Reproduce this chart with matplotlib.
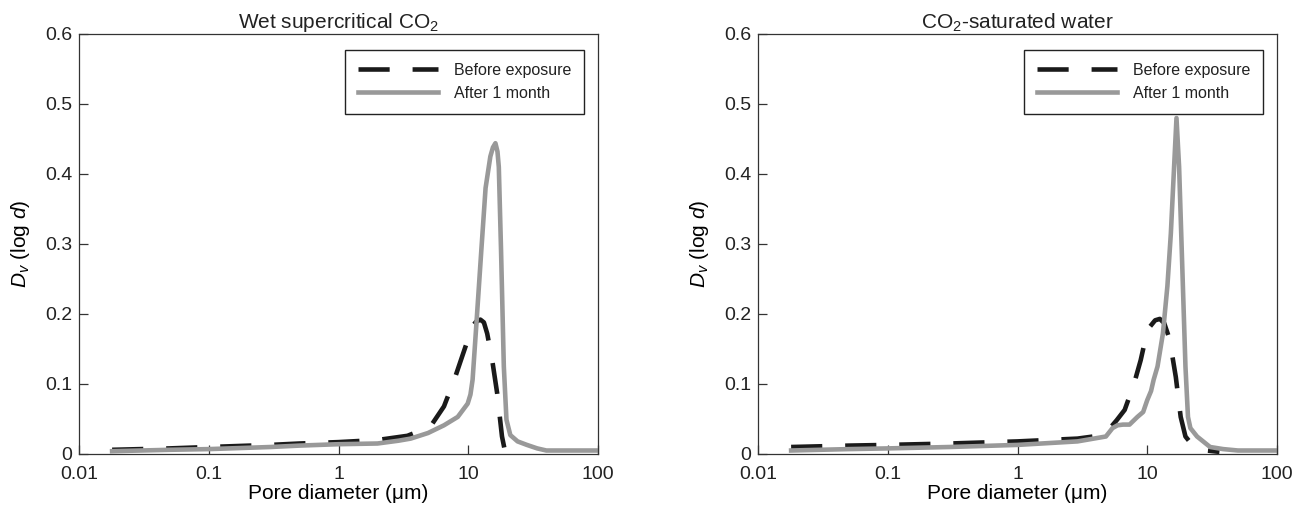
import matplotlib
matplotlib.use("Agg")
import matplotlib.pyplot as plt
from matplotlib.ticker import FixedLocator, NullLocator, FuncFormatter

plt.rcParams["font.family"] = ["Liberation Sans", "DejaVu Sans"]
plt.rcParams["mathtext.fontset"] = "custom"
plt.rcParams["mathtext.rm"] = "Liberation Sans"
plt.rcParams["mathtext.it"] = "Liberation Sans:italic"
plt.rcParams["text.color"] = "#222222"

# pore size distributions, wet supercritical CO2
wet_before_x = [0.018, 0.05, 0.1, 0.3, 0.5, 1, 2, 3.4, 5.1, 6.5, 7.8, 9.0, 10.0, 10.7,
                11.5, 12.4, 13.2, 14.0, 15.3, 16.7, 18.2, 19.0]
wet_before_y = [0.006, 0.008, 0.010, 0.013, 0.015, 0.017, 0.020, 0.026, 0.039, 0.068, 0.106,
                0.140, 0.165, 0.182, 0.189, 0.192, 0.188, 0.172, 0.134, 0.087, 0.025, 0.008]
wet_after_x = [0.018, 0.05, 0.1, 0.3, 0.5, 1, 2, 2.9, 3.6, 4.9, 6.5, 8.3, 9.9, 10.4, 10.8,
               11.5, 12.6, 13.6, 14.8, 15.5, 16.2, 16.8, 17.2, 17.9, 18.8, 19.7, 21.1, 24,
               28.3, 34, 40, 60, 100]
wet_after_y = [0.004, 0.006, 0.007, 0.010, 0.012, 0.014, 0.015, 0.019, 0.022, 0.030, 0.041,
               0.053, 0.072, 0.085, 0.106, 0.180, 0.290, 0.380, 0.425, 0.438, 0.444, 0.432,
               0.410, 0.290, 0.125, 0.049, 0.027, 0.018, 0.013, 0.008, 0.005, 0.005, 0.005]

# pore size distributions, CO2-saturated water
sat_before_x = [0.018, 0.05, 0.1, 0.3, 1, 2.9, 4.2, 5.0, 5.8, 6.7, 7.9, 8.9, 9.7, 10.5, 11.5,
                12.5, 13.5, 14.5, 15.2, 16.6, 18.1, 19.7, 22.9, 28.8, 36]
sat_before_y = [0.010, 0.012, 0.013, 0.015, 0.018, 0.022, 0.026, 0.034, 0.048, 0.063, 0.100,
                0.134, 0.165, 0.182, 0.191, 0.193, 0.187, 0.170, 0.153, 0.110, 0.053, 0.025,
                0.010, 0.005, 0.003]
sat_after_x = [0.018, 0.05, 0.1, 0.3, 1, 2.9, 4.8, 5.4, 5.9, 6.5, 7.3, 8.4, 9.3, 10.0, 10.7,
               11.2, 12.0, 13.2, 14.3, 15.2, 16.1, 16.8, 17.6, 18.6, 19.7, 20.6, 21.5, 24.2,
               30.5, 38.5, 50, 100]
sat_after_y = [0.005, 0.007, 0.008, 0.010, 0.013, 0.018, 0.025, 0.037, 0.041, 0.042, 0.042,
               0.053, 0.060, 0.077, 0.090, 0.106, 0.125, 0.172, 0.240, 0.315, 0.410, 0.480,
               0.410, 0.270, 0.125, 0.053, 0.037, 0.025, 0.010, 0.007, 0.005, 0.005]

titles = ["Wet supercritical CO$_2$", "CO$_2$-saturated water"]
series = [(wet_before_x, wet_before_y, wet_after_x, wet_after_y),
          (sat_before_x, sat_before_y, sat_after_x, sat_after_y)]
labels = ["Before exposure", "After 1 month"]
x_ticks = [0.01, 0.1, 1, 10, 100]
y_ticks = [0, 0.1, 0.2, 0.3, 0.4, 0.5, 0.6]

fig = plt.figure(figsize=(13.08, 5.08), dpi=100)
lefts = [79 / 1308, 758 / 1308]

for left, title, (bx, by, ax_, ay) in zip(lefts, titles, series):
    ax = fig.add_axes([left, 54 / 508, 519 / 1308, 420 / 508])
    ax.plot(bx, by, color="#1a1a1a", lw=3.3, dashes=(6.8, 5.0), label=labels[0])
    ax.plot(ax_, ay, color="#999999", lw=3.3, label=labels[1])

    ax.set_xscale("log")
    ax.set_xlim(0.01, 100)
    ax.set_ylim(0, 0.6)
    ax.xaxis.set_major_locator(FixedLocator(x_ticks))
    ax.xaxis.set_minor_locator(NullLocator())
    ax.xaxis.set_major_formatter(FuncFormatter(lambda v, p: "%g" % v))
    ax.yaxis.set_major_locator(FixedLocator(y_ticks))
    ax.yaxis.set_major_formatter(FuncFormatter(lambda v, p: "%g" % v))
    ax.tick_params(direction="in", length=6.5, width=0.9, color="#333333",
                   labelsize=14, labelcolor="#222222")
    ax.tick_params(axis="x", pad=8.5)
    ax.tick_params(axis="y", pad=5)
    for s in ax.spines.values():
        s.set_color("#333333")
        s.set_linewidth(0.9)

    ax.set_title(title, fontsize=15, pad=4)
    ax.set_xlabel("Pore diameter (μm)", fontsize=15, labelpad=1)
    ax.set_ylabel(r"$D_v$ (log $d$)", fontsize=15, labelpad=9)

    leg = ax.legend(loc="upper right", bbox_to_anchor=(0.973, 0.962), borderaxespad=0,
                    fontsize=11.5, handlelength=5.0, handletextpad=1.0, borderpad=0.8,
                    labelspacing=0.5, fancybox=False, framealpha=1)
    leg.get_frame().set_edgecolor("#222222")
    leg.get_frame().set_linewidth(1.0)

fig.savefig("out.png", dpi=100)
